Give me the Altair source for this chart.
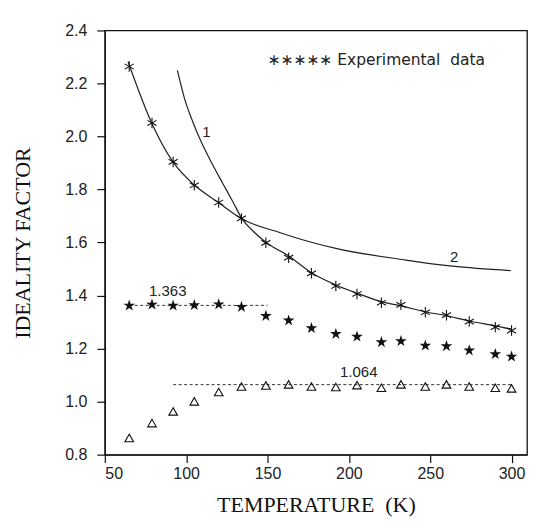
import altair as alt
import pandas as pd

# ---- data ----
T_exp = [65, 79, 92, 105, 120, 134, 149, 163, 177, 192, 205, 220, 232, 247, 260, 274, 290, 300]
n_asterisk = [2.264, 2.051, 1.904, 1.816, 1.751, 1.691, 1.599, 1.543, 1.484, 1.436,
              1.406, 1.373, 1.365, 1.337, 1.326, 1.302, 1.281, 1.268]
n_star = [1.362, 1.366, 1.362, 1.364, 1.367, 1.357, 1.323, 1.306, 1.277, 1.255,
          1.245, 1.224, 1.228, 1.211, 1.209, 1.193, 1.179, 1.170]
n_triangle = [0.863, 0.919, 0.963, 1.001, 1.036, 1.057, 1.061, 1.065, 1.057, 1.055,
              1.062, 1.052, 1.065, 1.057, 1.065, 1.057, 1.052, 1.050]

# curve 1 (steep, then through high-T experimental points)
T_c1 = [94.6, 99, 104.1, 109.3, 115.4, 122.5, 128.7, 134.2, 142, 149.4, 163, 177, 192,
        205, 220, 232, 247, 260, 274, 290, 300]
n_c1 = [2.249, 2.143, 2.055, 1.979, 1.904, 1.823, 1.754, 1.691, 1.638, 1.599, 1.549,
        1.486, 1.440, 1.409, 1.377, 1.361, 1.339, 1.324, 1.304, 1.286, 1.273]
# curve 2 (through low-T experimental points, then flattening)
T_c2 = [64.3, 78.8, 91.9, 105.2, 119.9, 133.8, 157.4, 175.8, 192, 235, 263.7, 299.5]
n_c2 = [2.282, 2.051, 1.904, 1.816, 1.751, 1.691, 1.638, 1.603, 1.578, 1.534,
        1.511, 1.494]

dash_level = [1.363, 1.064]
dash_start = [65, 92]
dash_end = [150, 300]

label_text = ["1", "2", "1.363", "1.064"]
label_T = [112.4, 264.7, 88.7, 206.1]
label_n = [2.017, 1.546, 1.418, 1.110]

legend_text = ["\u2217\u2217\u2217\u2217\u2217 Experimental\u00a0\u00a0data"]
legend_T = [150]
legend_n = [2.287]

# ---- tables ----
exp_df = pd.DataFrame({"T": T_exp, "ast": n_asterisk, "fstar": n_star, "tri": n_triangle})
curve_df = pd.DataFrame({
    "T": T_c1 + T_c2,
    "n": n_c1 + n_c2,
    "c": ["1"] * len(T_c1) + ["2"] * len(T_c2),
})
dash_df = pd.DataFrame({"n": dash_level, "t0": dash_start, "t1": dash_end})
lab_df = pd.DataFrame({"txt": label_text, "T": label_T, "n": label_n})
leg_df = pd.DataFrame({"txt": legend_text, "T": legend_T, "n": legend_n})

xs = alt.Scale(domain=[50, 309.5], nice=False, zero=False)
ys = alt.Scale(domain=[0.8, 2.4], nice=False, zero=False)

xax = alt.Axis(values=[50, 100, 150, 200, 250, 300], title="TEMPERATURE\u00a0\u00a0(K)",
               titlePadding=13)
yax = alt.Axis(values=[0.8, 1.0, 1.2, 1.4, 1.6, 1.8, 2.0, 2.2, 2.4], format=".1f",
               title="IDEALITY FACTOR", titlePadding=30)

curves = alt.Chart(curve_df).mark_line(color="#222", strokeWidth=1.2, interpolate="monotone").encode(
    x=alt.X("T:Q", scale=xs, axis=xax),
    y=alt.Y("n:Q", scale=ys, axis=yax),
    detail="c:N",
)

dashes = alt.Chart(dash_df).mark_rule(color="#333", strokeWidth=1, strokeDash=[3, 2.5]).encode(
    x=alt.X("t0:Q", scale=xs), x2="t1:Q", y=alt.Y("n:Q", scale=ys)
)

ast_shape = "M0,-1L0,1M-0.87,-0.5L0.87,0.5M-0.87,0.5L0.87,-0.5"
star_shape = ("M0,-1L0.2245,-0.309L0.951,-0.309L0.363,0.118L0.588,0.809L0,0.382"
              "L-0.588,0.809L-0.363,0.118L-0.951,-0.309L-0.2245,-0.309Z")
asterisks = alt.Chart(exp_df).mark_point(shape=ast_shape, filled=False, color="#111", size=110,
                                         strokeWidth=1.1, opacity=1).encode(
    x=alt.X("T:Q", scale=xs), y=alt.Y("ast:Q", scale=ys)
)
stars = alt.Chart(exp_df).mark_point(shape=star_shape, filled=True, color="#111", size=150,
                                     opacity=1).encode(
    x=alt.X("T:Q", scale=xs), y=alt.Y("fstar:Q", scale=ys)
)
tris = alt.Chart(exp_df).mark_point(shape="triangle-up", filled=False, color="#111", size=75,
                                    strokeWidth=1.1, opacity=1).encode(
    x=alt.X("T:Q", scale=xs), y=alt.Y("tri:Q", scale=ys)
)

labels = alt.Chart(lab_df).mark_text(font="Liberation Sans", fontSize=15, color="#222").encode(
    x=alt.X("T:Q", scale=xs), y=alt.Y("n:Q", scale=ys), text="txt:N"
)
legend = alt.Chart(leg_df).mark_text(font="DejaVu Sans", fontSize=15.5, color="#222",
                                     align="left", baseline="middle").encode(
    x=alt.X("T:Q", scale=xs), y=alt.Y("n:Q", scale=ys), text="txt:N"
)

chart = alt.layer(curves, dashes, asterisks, stars, tris, labels, legend).properties(
    width=423, height=425,
    autosize=alt.AutoSizeParams(type="none"),
    padding={"left": 97, "top": 22, "right": 5, "bottom": 70},
).configure_view(stroke="#111", strokeWidth=1.3).configure_axis(
    grid=False, domainColor="#111", domainWidth=1.3, tickColor="#111", tickWidth=1.2,
    tickSize=8, labelFont="Liberation Sans", labelFontSize=16, labelColor="#222",
    titleFont="Liberation Serif", titleFontSize=22, titleFontWeight="normal",
    titleColor="#111",
).configure_axisY(labelPadding=10).configure_axisX(labelPadding=3)

chart.save("out.html", embed_options={"renderer": "svg", "actions": False})
